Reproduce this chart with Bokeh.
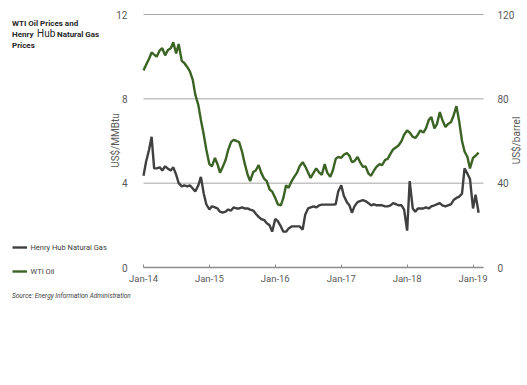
import math
import pandas as pd
from bokeh.plotting import figure
from bokeh.models import (Range1d, LinearAxis, Label, Legend, LegendItem,
                          DatetimeTickFormatter, FixedTicker, ColumnDataSource)
from bokeh.embed import file_html
from bokeh.resources import INLINE

# WTI oil price, US$/barrel (semi-monthly readings, Jan 2014 - Feb 2019)
wti_oil = [93.5, 96, 99, 102, 101, 100, 103, 104, 100.6, 103, 104, 106.8,
           101.5, 106, 98, 97, 95, 93, 89, 82, 77, 70, 63, 56,
           49, 48, 52, 49, 45, 47.5, 51, 55.7, 59.5, 60.5, 60, 59.5,
           55, 49.6, 44, 41, 45.3, 46, 48.6, 45, 42, 41, 37, 36,
           33, 30, 29.5, 33, 39, 37.8, 41, 43, 45, 48, 50, 48,
           45, 42.5, 45, 47, 45, 44, 49, 45, 43, 46, 51.5, 52.5,
           52, 53.5, 54.3, 53, 50, 50.5, 52.4, 50, 47.7, 48, 44.5, 43.5,
           46, 47.7, 49, 48.5, 51, 51.5, 54, 56, 57, 58, 60, 63,
           65, 64, 62, 61.4, 63, 65, 64, 66, 70, 71.3, 66, 68,
           73.7, 70, 66.6, 68, 69, 72, 76.5, 70, 60, 55, 52.4, 47,
           52, 53, 54.5]

# Henry Hub natural gas price, US$/MMBtu
henry_hub = [4.35, 5.0, 5.6, 6.2, 4.7, 4.7, 4.75, 4.6, 4.8, 4.7, 4.6, 4.75,
             4.4, 4.0, 3.85, 3.9, 3.85, 3.9, 3.75, 3.6, 3.9, 4.3, 3.5, 3.0,
             2.75, 2.9, 2.85, 2.8, 2.65, 2.6, 2.65, 2.75, 2.7, 2.85, 2.8, 2.8,
             2.85, 2.8, 2.8, 2.75, 2.7, 2.55, 2.4, 2.3, 2.25, 2.1, 2.0, 1.7,
             2.3, 2.2, 1.95, 1.7, 1.7, 1.85, 1.95, 1.95, 1.95, 1.95, 1.8, 2.5,
             2.8, 2.85, 2.9, 2.85, 2.95, 2.98, 2.98, 2.98, 2.98, 2.98, 3.0, 3.6,
             3.9, 3.4, 3.1, 2.95, 2.6, 2.9, 3.1, 3.15, 3.2, 3.15, 3.05, 2.95,
             3.0, 2.95, 2.95, 2.95, 2.9, 2.9, 2.95, 3.05, 3.0, 2.95, 2.95, 2.75,
             1.75, 4.1, 2.8, 2.65, 2.8, 2.8, 2.8, 2.85, 2.8, 2.9, 2.95, 3.0,
             3.05, 2.95, 2.9, 2.95, 3.0, 3.2, 3.3, 3.35, 3.5, 4.7, 4.45, 4.2,
             2.8, 3.45, 2.6]

dates = pd.date_range("2014-01-01", periods=len(wti_oil), freq="SMS")
tick_dates = ["2014-01-01", "2015-01-01", "2016-01-01", "2017-01-01",
              "2018-01-01", "2019-01-01"]
gas_ticks = [0, 4, 8, 12]
oil_ticks = [0, 40, 80, 120]
gas_max, oil_max = 12, 120
x_first, x_last = "2014-01-01", "2019-02-28"

GAS_COLOR = "#404040"
OIL_COLOR = "#3b6324"
FONT = "Roboto"
GREY = "#595959"

# ---- layout geometry (pixels on the canvas) ----
W, H = 525, 383
PLOT_L, PLOT_R = 143, 483     # left / right edge of plotting area
PLOT_T, PLOT_B = 14, 267      # top / bottom edge of plotting area

t0 = pd.Timestamp(x_first)
t1 = pd.Timestamp(x_last)
ms_per_px = (t1 - t0) / (PLOT_R - PLOT_L)
x_start = t0 - ms_per_px * PLOT_L
x_end = t1 + ms_per_px * (W - PLOT_R)
u_per_px = gas_max / (PLOT_B - PLOT_T)
y_start = -u_per_px * (H - PLOT_B)
y_end = gas_max + u_per_px * PLOT_T

src = ColumnDataSource(dict(date=dates, oil=wti_oil, gas=henry_hub))

p = figure(width=W, height=H, x_axis_type="datetime",
           output_backend="svg", toolbar_location=None, min_border=0,
           x_range=Range1d(x_start, x_end), y_range=Range1d(y_start, y_end))
p.extra_y_ranges = {"oil": Range1d(y_start * oil_max / gas_max, y_end * oil_max / gas_max)}
p.outline_line_color = None
p.xgrid.visible = False
p.ygrid.visible = False

# horizontal gridlines restricted to the plotting area
p.segment(x0=t0, x1=t1, y0=gas_ticks[1:], y1=gas_ticks[1:],
          line_color="#a6a6a6", line_width=1)

gas_r = p.line("date", "gas", source=src, line_color=GAS_COLOR, line_width=2.4)
oil_r = p.line("date", "oil", source=src, line_color=OIL_COLOR, line_width=2.4,
               y_range_name="oil")

# x axis
xa = p.xaxis[0]
xa.fixed_location = 0
xa.bounds = (t0, t1)
xa.ticker = FixedTicker(ticks=[pd.Timestamp(d).value / 1e6 for d in tick_dates])
xa.formatter = DatetimeTickFormatter(months="%b-%y", days="%b-%y", years="%b-%y")
xa.axis_line_color = "#8c8c8c"
xa.axis_line_width = 1.5
xa.major_tick_in = 3
xa.major_tick_out = 0
xa.major_tick_line_color = "#8c8c8c"
xa.minor_tick_line_color = None
xa.major_label_standoff = 5
xa.major_label_text_font = FONT
xa.major_label_text_font_size = "9.5px"
xa.major_label_text_color = GREY

# left axis
ya = p.yaxis[0]
ya.fixed_location = t0.value / 1e6
ya.bounds = (0, gas_max)
ya.ticker = FixedTicker(ticks=gas_ticks)
ya.axis_line_color = None
ya.major_tick_line_color = None
ya.minor_tick_line_color = None
ya.major_label_standoff = 10
ya.major_label_text_font = FONT
ya.major_label_text_font_size = "10px"
ya.major_label_text_color = GREY

# right axis
ra = LinearAxis(y_range_name="oil", ticker=FixedTicker(ticks=oil_ticks))
ra.fixed_location = t1.value / 1e6
ra.bounds = (0, oil_max)
ra.axis_line_color = None
ra.major_tick_line_color = None
ra.minor_tick_line_color = None
ra.major_label_standoff = 8
ra.major_label_text_font = FONT
ra.major_label_text_font_size = "10px"
ra.major_label_text_color = GREY
p.add_layout(ra, "right")

# axis titles (rotated, reading bottom-to-top)
axis_title_kw = dict(x_units="screen", y_units="screen", angle=math.pi / 2,
                     text_align="center", text_baseline="middle",
                     text_font=FONT, text_font_size="10px", text_color=GREY)
p.add_layout(Label(x=115, y=H - 140, text="US$/MMBtu", **axis_title_kw))
p.add_layout(Label(x=516, y=H - 140, text="US$/barrel", **axis_title_kw))

# title at top-left (screen units: from canvas bottom-left)
title_kw = dict(x_units="screen", y_units="screen", text_baseline="middle",
                text_font=FONT, text_color="#262626")
p.add_layout(Label(x=11.5, y=H - 22.5, text="WTI Oil Prices and",
                   text_font_size="8px", text_font_style="bold", **title_kw))
p.add_layout(Label(x=11.5, y=H - 33.5, text="Henry",
                   text_font_size="8px", text_font_style="bold", **title_kw))
p.add_layout(Label(x=36.5, y=H - 33, text="Hub",
                   text_font_size="10px", text_font_style="normal", **title_kw))
p.add_layout(Label(x=56.5, y=H - 33.5, text="Natural Gas",
                   text_font_size="8px", text_font_style="bold", **title_kw))
p.add_layout(Label(x=11.5, y=H - 44.5, text="Prices",
                   text_font_size="8px", text_font_style="bold", **title_kw))

# legend at lower left
legend = Legend(items=[LegendItem(label="Henry Hub Natural Gas", renderers=[gas_r]),
                       LegendItem(label="WTI Oil", renderers=[oil_r])],
                location=(11.5, H - 276), orientation="vertical",
                padding=0, margin=0, spacing=14,
                glyph_width=15, glyph_height=10, label_height=10,
                label_standoff=4, label_text_font=FONT,
                label_text_font_size="7.5px", label_text_color="#404040",
                border_line_color=None, background_fill_alpha=0)
p.add_layout(legend, "center")

# source note
p.add_layout(Label(x=11.5, y=H - 295, x_units="screen", y_units="screen",
                   text="Source: Energy Information Administration",
                   text_baseline="middle", text_font=FONT,
                   text_font_style="italic", text_font_size="6.5px",
                   text_color="#404040"))

open("out.html", "w").write(file_html(p, INLINE))
